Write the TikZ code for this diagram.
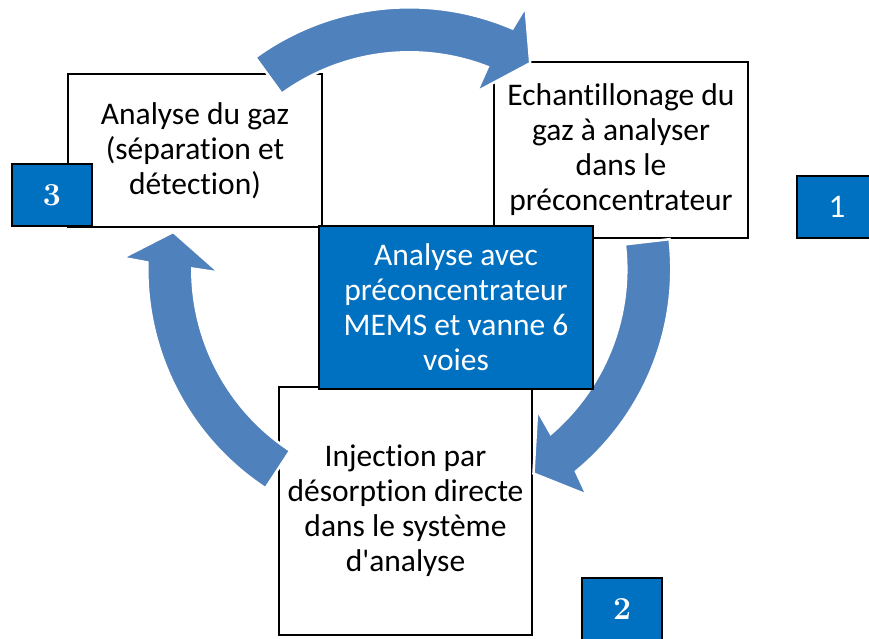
\documentclass[tikz,border=0pt]{standalone}
\usepackage{fontspec}
\newfontfamily\carl{Carlito}[Ligatures=NoCommon]
\definecolor{arrowblue}{RGB}{79,129,189}
\definecolor{boxblue}{RGB}{0,112,192}
\tikzset{
  stagebox/.style={draw=black, line width=1.5pt, fill=white, inner sep=0pt, align=center,
    font=\carl\fontsize{31.5}{35}\selectfont, text=black},
  centrebox/.style={stagebox, fill=boxblue, text=white},
  numbox/.style={draw=black, line width=1.5pt, fill=boxblue, text=white,
    minimum width=80pt, minimum height=62pt, inner sep=0pt},
  cyclearrow/.style={fill=arrowblue, draw=white, line width=2.5pt, line join=miter},
}
\newcommand\drawcyclearrow[6]{%
  \filldraw[cyclearrow] ([shift={(#1:262pt)}]C) arc[start angle=#1, end angle=#2, radius=262pt]
    -- ([shift={(#4:287pt)}]C) -- ([shift={(#6:239pt)}]C) -- ([shift={(#5:190pt)}]C)
    -- ([shift={(#3:217pt)}]C) arc[start angle=#3, end angle=#1, radius=217pt] -- cycle;}
\begin{document}
\begin{tikzpicture}[x=1pt,y=1pt]
  \useasboundingbox (0,0) rectangle (869,639);
  \fill[white] (0,0) rectangle (869,639);
  \coordinate (C) at (409.3,369.7);
  % stage boxes
  \node[stagebox, minimum width=254pt, minimum height=153pt] (gas) at (195,488.5)
    {Analyse du gaz\\(séparation et\\détection)};
  \node[stagebox, minimum width=254pt, minimum height=176pt] (sample) at (621,489)
    {Echantillonage du\\gaz à analyser\\dans le\\préconcentrateur};
  \node[stagebox, minimum width=253pt, minimum height=248pt] (inject) at (405.5,128)
    {Injection par\\désorption directe\\dans le système\\d'analyse};
  % cycle arrows
  \drawcyclearrow{126}{66.8}{68.8}{66.1}{69.2}{59.6}
  \drawcyclearrow{6.6}{-50.5}{-49.3}{-51.8}{-47.7}{-58.7}
  \drawcyclearrow{-123.3}{-181.5}{-180.2}{-182.3}{-179}{-189}
  % centre box
  \node[centrebox, minimum width=274pt, minimum height=163pt] (centre) at (456,331.5)
    {Analyse avec\\préconcentrateur\\MEMS et vanne 6\\voies};
  % number squares
  \node[numbox, font=\fontsize{32}{32}\selectfont\bfseries] (n3) at (52,444) {3};
  \node[numbox, font=\carl\fontsize{33}{33}\selectfont] (n1) at (837,432) {1};
  \node[numbox, font=\fontsize{32}{32}\selectfont\bfseries] (n2) at (622,30) {2};
\end{tikzpicture}
\end{document}
